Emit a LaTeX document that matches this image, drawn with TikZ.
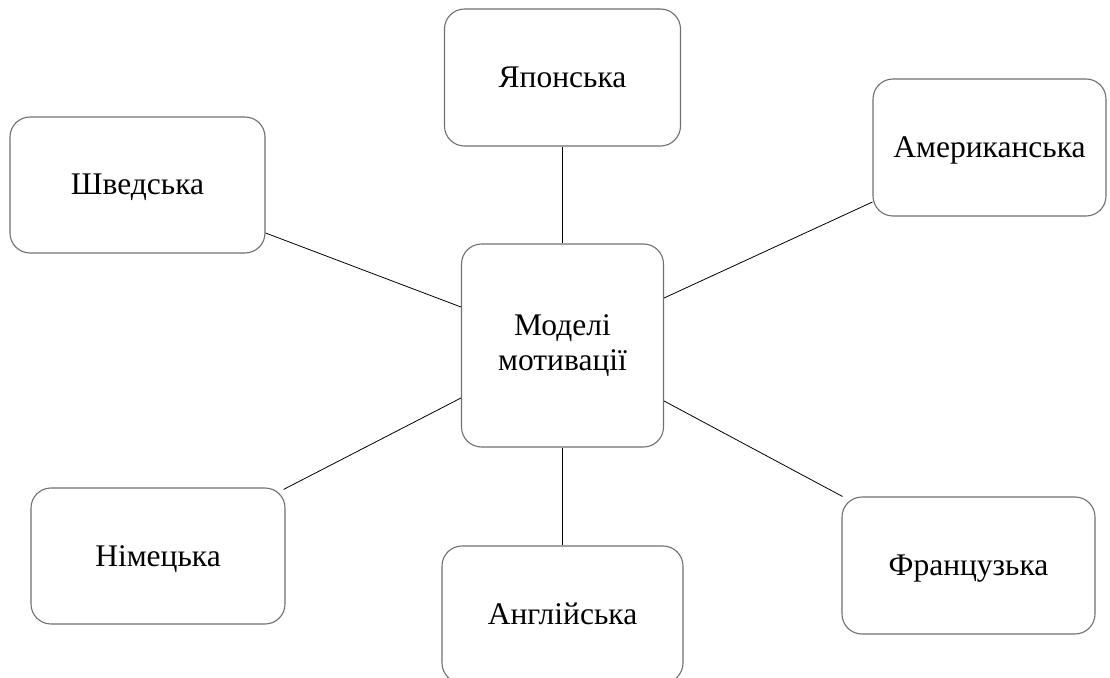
\documentclass[tikz,border=0pt]{standalone}
\usepackage{fontspec}
\setmainfont{Liberation Serif}
\usetikzlibrary{calc}
\definecolor{boxline}{HTML}{707070}
\begin{document}
\begin{tikzpicture}[x=1bp,y=-1bp,
  modelbase/.style={draw=boxline, line width=1.1bp, rounded corners=20bp, fill=white,
    inner sep=0pt, align=center, font=\fontsize{31.5bp}{35.4bp}\selectfont},
  model/.style={modelbase, text height=21bp, text depth=1bp},
  link/.style={draw=black, line width=0.8bp}]
  \useasboundingbox (0,0) rectangle (1110,678);

  % central node
  \node[modelbase, minimum width=202bp, minimum height=203bp] (mid) at (562.5,345.5) {Моделі\\мотивації};

  % surrounding national models
  \node[model, minimum width=236bp, minimum height=137bp] (jap) at (562.5,77.5) {Японська};
  \node[model, minimum width=233bp, minimum height=137bp] (ame) at (989.5,147.5) {Американська};
  \node[model, minimum width=255bp, minimum height=136bp] (swe) at (137.5,185) {Шведська};
  \node[model, minimum width=254bp, minimum height=136bp] (ger) at (158,556) {Німецька};
  \node[model, minimum width=241bp, minimum height=137bp] (eng) at (562.5,614.5) {Англійська};
  \node[model, minimum width=253bp, minimum height=137bp] (fra) at (968.5,565.5) {Французька};

  % connectors
  \draw[link] (jap.south) -- (mid.north);
  \draw[link] (eng.north) -- (mid.south);
  \draw[link] ($(swe.east)+(0,48)$) -- ($(mid.west)+(0,-38.5)$);
  \draw[link] ($(ger.north east)+(-2,2)$) -- ($(mid.west)+(0,52.5)$);
  \draw[link] ($(ame.west)+(0,54.5)$) -- ($(mid.east)+(0,-47.5)$);
  \draw[link] ($(fra.north west)+(1,0)$) -- ($(mid.east)+(0,55.5)$);
\end{tikzpicture}
\end{document}
